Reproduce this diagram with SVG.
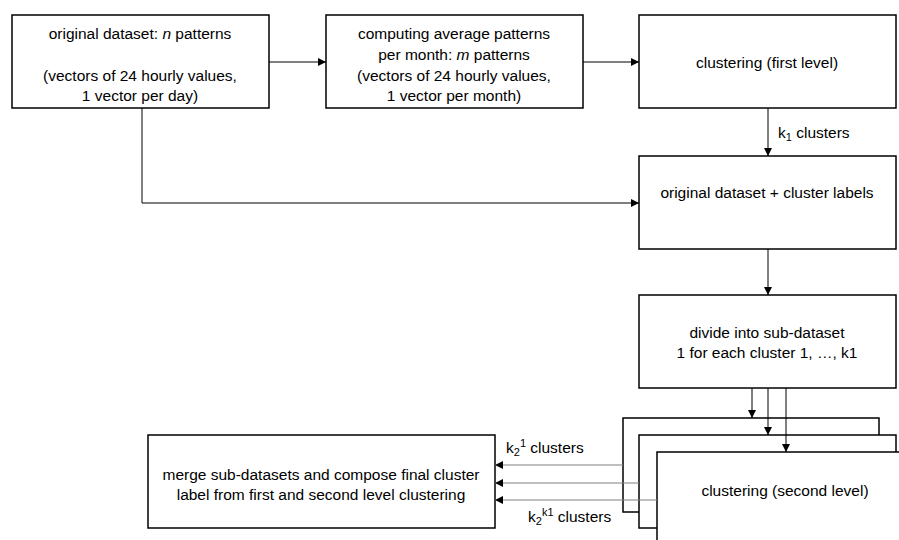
<svg xmlns="http://www.w3.org/2000/svg" width="899" height="540" viewBox="0 0 899 540">
<style>
.box{fill:#fff;stroke:#000;stroke-width:1.5}
.t{font-family:"Liberation Sans",Arial,sans-serif;font-size:15.5px;fill:#000;text-anchor:middle}
.l{font-family:"Liberation Sans",Arial,sans-serif;font-size:15.5px;fill:#000}
.c{fill:none;stroke:#000;stroke-width:1}
.g{fill:none;stroke:#808080;stroke-width:1}
</style>
<defs>
<marker id="ah" viewBox="0 0 10 10" refX="10" refY="5" markerWidth="8" markerHeight="8" markerUnits="userSpaceOnUse" orient="auto">
<path d="M0,0 L10,5 L0,10 z" fill="#000"/>
</marker>
</defs>
<rect width="899" height="540" fill="#fff"/>
<g id="n1"><rect class="box" x="12" y="15" width="257" height="93"/>
<text class="t" x="140" y="39">original dataset: <tspan font-style="italic">n</tspan> patterns</text>
<text class="t" x="140" y="81">(vectors of 24 hourly values,</text>
<text class="t" x="140" y="101">1 vector per day)</text></g>
<g id="n2"><rect class="box" x="326" y="15" width="257" height="93"/>
<text class="t" x="454" y="39">computing average patterns</text>
<text class="t" x="454" y="60">per month: <tspan font-style="italic">m</tspan> patterns</text>
<text class="t" x="454" y="81">(vectors of 24 hourly values,</text>
<text class="t" x="454" y="101">1 vector per month)</text></g>
<g id="n3"><rect class="box" x="639" y="15" width="257" height="93"/>
<text class="t" x="767" y="68">clustering (first level)</text></g>
<g id="n4"><rect class="box" x="639" y="156" width="257" height="93"/>
<text class="t" x="767" y="198">original dataset + cluster labels</text></g>
<g id="n5"><rect class="box" x="639" y="295" width="257" height="93"/>
<text class="t" x="767" y="338">divide into sub-dataset</text>
<text class="t" x="767" y="358">1 for each cluster 1, …, k1</text></g>
<g id="n6"><rect class="box" x="623" y="418" width="256" height="94"/></g>
<g id="n7"><rect class="box" x="639" y="435" width="257" height="93"/></g>
<g id="n8"><rect class="box" x="657" y="452" width="257" height="94"/>
<text class="t" x="785" y="496">clustering (second level)</text></g>
<g id="n9"><rect class="box" x="148" y="435" width="347" height="93"/>
<text class="t" x="321" y="480">merge sub-datasets and compose final cluster</text>
<text class="t" x="321" y="500">label from first and second level clustering</text></g>
<g id="connectors">
<line class="c" x1="269" y1="62" x2="326" y2="62" marker-end="url(#ah)"/>
<line class="c" x1="583" y1="62" x2="639" y2="62" marker-end="url(#ah)"/>
<line class="c" x1="768" y1="108" x2="768" y2="156" marker-end="url(#ah)"/>
<polyline class="c" points="142,108 142,203 639,203" marker-end="url(#ah)"/>
<line class="c" x1="768" y1="249" x2="768" y2="295" marker-end="url(#ah)"/>
<line class="c" x1="752" y1="388" x2="752" y2="418" marker-end="url(#ah)"/>
<line class="c" x1="768" y1="388" x2="768" y2="435" marker-end="url(#ah)"/>
<line class="c" x1="786" y1="388" x2="786" y2="452" marker-end="url(#ah)"/>
<line class="g" x1="623" y1="465" x2="495" y2="465" marker-end="url(#ah)"/>
<line class="g" x1="639" y1="483" x2="495" y2="483" marker-end="url(#ah)"/>
<line class="g" x1="657" y1="500" x2="495" y2="500" marker-end="url(#ah)"/>
<text class="l" x="778" y="138">k<tspan font-size="11" dy="3">1</tspan><tspan dy="-3"> clusters</tspan></text>
<text class="l" x="506" y="453">k<tspan font-size="11" dy="3">2</tspan><tspan font-size="11" dy="-9">1</tspan><tspan dy="6"> clusters</tspan></text>
<text class="l" x="528" y="522">k<tspan font-size="11" dy="3">2</tspan><tspan font-size="11" dy="-9">k1</tspan><tspan dy="6"> clusters</tspan></text>
</g>
</svg>
